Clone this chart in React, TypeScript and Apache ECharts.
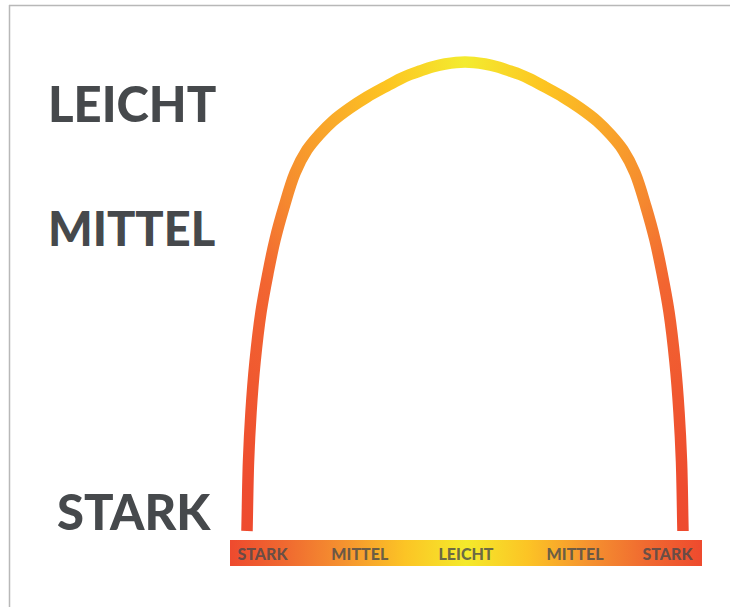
import React, { useEffect, useRef } from "react";
import * as echarts from "echarts";

// Arc (intensity curve): x = position along the bar (0..100), y = lightness level (0..100)
const arcX = [3.60, 3.92, 4.45, 5.30, 6.57, 8.05, 9.53, 11.44, 13.77, 16.31, 18.86, 21.82, 25.42, 29.03, 32.84, 36.02, 38.14, 40.25, 43.01, 45.55, 49.79,
  54.03, 56.57, 59.32, 61.44, 63.56, 66.74, 70.55, 74.15, 77.75, 80.72, 83.26, 85.81, 88.14, 90.04, 91.53, 93.01, 94.28, 95.13, 95.66, 95.97];
const arcY = [0, 14.71, 25.37, 36.03, 46.70, 55.01, 62.05, 69.08, 76.33, 81.24, 84.43, 87.42, 90.19, 92.54, 94.67, 96.38, 97.33, 98.08, 98.98, 99.57, 100,
  99.57, 98.98, 98.08, 97.33, 96.38, 94.67, 92.54, 90.19, 87.42, 84.43, 81.24, 76.33, 69.08, 62.05, 55.01, 46.70, 36.03, 25.37, 14.71, 0];

// Bottom scale labels and their positions along the bar (0..100)
const barLabels = ["STARK", "MITTEL", "LEICHT", "MITTEL", "STARK"];
const barLabelX = [6.9, 27.5, 50.0, 73.1, 92.7];

// Side labels
const sideLabels = ["LEICHT", "MITTEL", "STARK"];

// Centripetal Catmull-Rom spline through the projected points, as cubic Bezier path data
function splinePath(pts: number[][]): string {
  const n = pts.length;
  const P = (i: number): number[] => {
    if (i < 0) return [2 * pts[0][0] - pts[1][0], 2 * pts[0][1] - pts[1][1]];
    if (i > n - 1) return [2 * pts[n - 1][0] - pts[n - 2][0], 2 * pts[n - 1][1] - pts[n - 2][1]];
    return pts[i];
  };
  const dist = (a: number[], b: number[]) => Math.max(1e-6, Math.pow(Math.hypot(a[0] - b[0], a[1] - b[1]), 0.5));
  let d = `M${pts[0][0].toFixed(2)},${pts[0][1].toFixed(2)}`;
  for (let i = 0; i < n - 1; i++) {
    const p0 = P(i - 1), p1 = P(i), p2 = P(i + 1), p3 = P(i + 2);
    const d1 = dist(p0, p1), d2 = dist(p1, p2), d3 = dist(p2, p3);
    const c1 = [0, 1].map((k) =>
      (d1 * d1 * p2[k] - d2 * d2 * p0[k] + (2 * d1 * d1 + 3 * d1 * d2 + d2 * d2) * p1[k]) / (3 * d1 * (d1 + d2)));
    const c2 = [0, 1].map((k) =>
      (d3 * d3 * p1[k] - d2 * d2 * p3[k] + (2 * d3 * d3 + 3 * d3 * d2 + d2 * d2) * p2[k]) / (3 * d3 * (d3 + d2)));
    d += ` C${c1[0].toFixed(2)},${c1[1].toFixed(2)} ${c2[0].toFixed(2)},${c2[1].toFixed(2)} ${p2[0].toFixed(2)},${p2[1].toFixed(2)}`;
  }
  return d;
}

export default function App() {
  const ref = useRef<HTMLDivElement>(null);
  useEffect(() => {
    const chart = echarts.init(ref.current!, null, { renderer: "svg" });
    const ink = "#46494c";
    const font = "Lato, 'Open Sans', sans-serif";
    const sideStyle = [
      { x: 48, y: 103, size: 49 },
      { x: 48, y: 228, size: 47 },
      { x: 57, y: 511, size: 49 },
    ];
    const arcGradient = new echarts.graphic.RadialGradient(0.5, 0, 1.15, [
      { offset: 0, color: "#f3ec2f" },
      { offset: 0.16, color: "#fdc521" },
      { offset: 0.3, color: "#f9a72a" },
      { offset: 0.44, color: "#f5882f" },
      { offset: 0.57, color: "#f26531" },
      { offset: 0.9, color: "#ee4c2f" },
      { offset: 1, color: "#ee4a2e" },
    ]);
    chart.setOption({
      animation: false,
      backgroundColor: "#ffffff",
      grid: [
        { left: 230, right: 28, top: 62, bottom: 76 },
        { left: 230, right: 28, top: 540, height: 26 },
      ],
      xAxis: [
        { type: "value", min: 0, max: 100, show: false, gridIndex: 0 },
        { type: "value", min: 0, max: 100, show: false, gridIndex: 1 },
      ],
      yAxis: [
        { type: "value", min: 0, max: 100, show: false, gridIndex: 0 },
        { type: "value", min: 0, max: 1, show: false, gridIndex: 1 },
      ],
      series: [
        {
          type: "custom",
          xAxisIndex: 0,
          yAxisIndex: 0,
          silent: true,
          z: 3,
          data: [[arcX[0], arcY[0]]],
          renderItem: (_params: any, api: any) => {
            const pts = arcX.map((x, i) => api.coord([x, arcY[i]]));
            return {
              type: "path",
              shape: { pathData: splinePath(pts) },
              style: {
                fill: "none",
                stroke: arcGradient,
                lineWidth: 11.5,
                lineCap: "butt",
                lineJoin: "round",
              },
            };
          },
        },
        {
          type: "scatter",
          xAxisIndex: 1,
          yAxisIndex: 1,
          data: barLabelX.map((x, i) => [x, 0.5, barLabels[i]]),
          symbolSize: 1,
          itemStyle: { color: "rgba(0,0,0,0)" },
          silent: true,
          z: 10,
          label: {
            show: true,
            position: "inside",
            formatter: (p: any) => p.data[2],
            color: ink,
            fontFamily: font,
            fontWeight: 900,
            fontSize: 16,
          },
        },
      ],
      graphic: [
        {
          type: "line",
          shape: { x1: 9.5, y1: 5, x2: 9.5, y2: 607 },
          style: { stroke: "#b8b8b8", lineWidth: 1.5 },
          z: 0,
        },
        {
          type: "line",
          shape: { x1: 9, y1: 5.5, x2: 730, y2: 5.5 },
          style: { stroke: "#b8b8b8", lineWidth: 1.5 },
          z: 0,
        },
        {
          type: "rect",
          shape: { x: 230, y: 540, width: 472, height: 26 },
          style: {
            fill: new echarts.graphic.LinearGradient(0, 0, 1, 0, [
              { offset: 0, color: "#ee4a2e" },
              { offset: 0.12, color: "#f06a30" },
              { offset: 0.24, color: "#f5922f" },
              { offset: 0.37, color: "#fcc425" },
              { offset: 0.5, color: "#f4ea2b" },
              { offset: 0.63, color: "#fcc425" },
              { offset: 0.76, color: "#f5922f" },
              { offset: 0.88, color: "#f06a30" },
              { offset: 1, color: "#ee4a2e" },
            ]),
          },
          z: 1,
        },
        ...sideLabels.map((t, i) => ({
          type: "text",
          x: sideStyle[i].x,
          y: sideStyle[i].y,
          z: 5,
          style: {
            text: t,
            fill: ink,
            font: `900 ${sideStyle[i].size}px ${font}`,
            textAlign: "left",
            textVerticalAlign: "middle",
          },
        })),
      ],
    });
    return () => chart.dispose();
  }, []);
  return (
    <div
      ref={ref}
      style={{ position: "absolute", left: 0, top: 0, width: 730, height: 607 }}
    />
  );
}
